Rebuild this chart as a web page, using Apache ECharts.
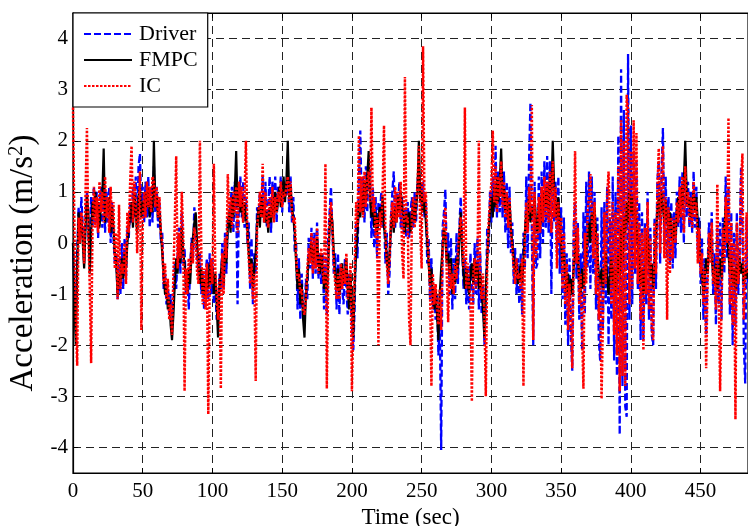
<!DOCTYPE html>
<html>
<head>
<meta charset="utf-8">
<script src="https://cdn.jsdelivr.net/npm/echarts@6/dist/echarts.min.js"></script>
<style>
html,body{margin:0;padding:0;background:#fff;}
#chart{width:748px;height:526px;}
</style>
</head>
<body>
<div id="chart"></div>
<script>
// sampling period of the recorded signals (seconds)
const timeStep = 1;
const xTickLabels = [0, 50, 100, 150, 200, 250, 300, 350, 400, 450];
const yTickLabels = [-4, -3, -2, -1, 0, 1, 2, 3, 4];
const seriesNames = ['Driver', 'FMPC', 'IC'];

const driver = [
0.0,-0.8,-1.6,-0.2,0.7,0.1,0.9,0.3,-0.4,0.5,
1.0,0.2,-0.3,0.9,0.3,1.1,0.4,1.0,0.1,0.8,
1.1,0.3,1.4,0.2,1.0,0.4,1.1,0.0,0.8,0.1,
-0.4,-0.2,-1.1,-0.3,-1.0,0.0,-0.9,0.1,-0.7,0.3,
0.1,0.8,0.4,1.1,0.5,1.3,0.3,1.5,1.75,0.6,
1.1,0.4,1.2,0.5,1.3,0.3,1.1,0.4,1.5,0.6,
1.1,0.3,0.8,0.0,0.2,-0.9,-0.6,-1.2,-0.8,-1.4,
-1.0,-1.6,-1.2,-0.4,-0.9,-0.2,0.3,-0.6,0.6,-0.4,
-0.1,-1.0,-0.6,-1.3,-0.5,0.1,-0.3,0.7,0.3,-0.3,
-0.6,-0.2,-1.0,-0.6,-1.3,-0.7,-0.3,-1.1,-0.2,-1.0,
-0.3,-1.2,-0.8,-1.5,-1.4,-0.6,-0.9,0.0,-0.9,0.2,
-0.6,0.5,0.3,0.8,1.1,0.2,1.2,0.8,-1.2,0.9,
1.3,0.5,1.2,0.3,0.9,0.0,0.4,-0.9,0.1,-1.2,
-0.2,-0.6,0.7,0.4,1.0,0.6,1.3,0.4,1.2,0.3,
0.7,1.3,0.2,1.2,0.6,1.3,0.4,1.1,0.8,1.3,
0.6,1.2,1.1,0.9,1.5,0.6,1.3,0.4,0.9,-0.2,
0.0,-1.3,-0.3,-1.5,-0.6,-1.3,-1.5,-0.7,-1.1,0.1,
-0.5,0.3,-0.7,0.2,-0.6,0.4,-0.7,-0.2,-0.8,-0.2,
-1.3,-0.3,-1.4,0.1,0.6,1.1,0.2,-0.6,-0.2,-1.3,
-0.2,-1.4,-0.4,-0.9,-1.2,-0.3,-0.9,-1.4,-0.6,-1.0,
-1.6,-2.1,-1.2,0.4,-0.3,1.2,2.2,0.7,1.3,0.4,
1.5,0.6,1.6,1.2,0.1,1.1,-0.1,0.9,-0.3,0.8,
0.4,1.0,0.3,0.6,-0.4,0.2,-1.0,-0.6,0.5,1.0,
1.4,0.3,1.0,0.6,1.2,0.3,0.9,0.2,0.7,0.1,
0.8,0.1,0.6,0.9,0.3,1.0,0.4,1.2,1.4,1.1,
0.7,1.2,0.5,0.8,-0.4,0.1,-1.1,-0.3,-1.3,-0.9,
-1.5,-1.0,-2.2,-1.5,-4.05,0.3,0.6,1.05,-0.3,0.2,
-1.0,0.1,-1.3,-0.3,-1.1,0.2,-0.8,0.3,0.9,0.1,
-0.9,-0.3,-1.2,-0.5,-1.3,-0.2,-0.8,-1.2,0.0,-1.0,
0.1,-1.3,-0.2,-1.4,-0.8,-2.0,-1.2,0.3,-0.2,1.0,
0.4,1.3,0.6,1.9,0.5,1.4,0.6,1.6,0.5,1.4,
0.2,1.2,-0.1,1.1,-0.2,0.4,-0.8,-0.1,-1.0,-0.3,
-1.2,-0.2,-1.4,0.2,-0.5,1.3,-0.3,1.6,2.75,0.2,
-2.0,1.2,-0.5,-0.4,1.3,-0.3,1.4,0.0,1.6,0.3,
1.7,0.2,1.6,-1.0,1.5,0.4,1.2,-0.2,1.3,-0.6,
0.7,-1.1,0.5,-1.6,-0.2,-2.0,-0.3,-1.8,-2.5,0.3,
0.8,-0.7,0.4,-1.5,-0.2,-2.1,0.6,-1.4,1.2,-0.5,
1.4,-0.9,1.3,-0.6,1.0,-1.3,0.5,-1.9,-2.3,0.7,
-1.7,0.8,-1.2,1.1,-2.0,0.5,-1.5,1.3,-2.3,1.0,
-2.6,2.1,-3.75,3.4,-2.8,2.6,-3.2,-3.4,3.7,-1.5,
2.3,-1.2,1.8,-0.6,1.6,-0.9,0.8,-1.9,0.6,-1.9,
0.4,-1.2,1.0,-1.5,0.3,-1.8,-2.0,0.5,-0.9,1.2,
1.6,-0.4,1.4,2.25,0.0,1.3,-0.3,0.9,-0.4,0.8,
-0.5,0.6,-0.3,1.0,0.3,1.3,0.2,1.4,0.0,1.6,
0.5,1.2,0.3,1.0,0.2,1.4,0.3,1.1,-0.2,0.5,
-0.8,0.1,-1.5,-0.3,-1.8,-0.5,0.4,-0.2,0.6,-1.0,
-0.2,-1.6,0.3,-1.2,0.4,-1.5,0.5,-0.6,1.3,-0.3,
1.1,-1.4,0.6,-2.0,0.2,-1.6,0.6,-1.0,-0.2,1.5,
0.3,-2.0,-2.75,0.5,-0.8
];

const fmpc = [
0.0,-1.2,-2.0,-0.5,0.6,0.2,0.5,0.0,-0.5,0.3,
0.9,0.6,-0.6,0.2,0.8,0.5,1.0,0.6,0.8,0.3,
0.7,0.9,1.85,0.4,0.8,0.6,0.9,0.2,0.7,0.3,
-0.2,-0.4,-1.0,-0.6,-0.8,-0.3,-0.7,-0.2,-0.5,0.0,
0.3,0.5,0.8,0.3,1.0,0.6,0.2,0.9,1.1,0.5,
0.8,0.6,1.0,0.7,1.1,0.5,0.9,0.6,2.0,0.8,
0.9,0.5,0.6,0.2,-0.2,-0.6,-1.0,-0.8,-1.3,-1.1,
-1.6,-1.9,-1.4,-0.8,-0.3,-0.6,0.0,-0.4,0.3,-0.2,
-0.4,-0.8,-1.0,-0.5,-0.8,-0.2,0.1,0.4,0.6,0.0,
-0.4,-0.8,-0.5,-1.0,-0.7,-1.1,-0.6,-0.9,-0.4,-0.8,
-0.5,-1.0,-0.6,-1.2,-1.85,-0.9,-0.6,-0.3,-0.8,-0.1,
-0.4,0.3,0.6,0.2,0.9,0.5,1.0,1.8,0.7,1.0,
0.6,0.9,0.4,0.8,0.5,0.3,-0.2,-0.6,-0.3,-0.9,
-0.5,-0.2,0.4,0.7,0.3,0.9,0.5,0.8,0.4,0.6,
0.2,0.7,0.4,0.9,0.5,1.0,0.6,0.8,1.1,0.7,
0.9,1.3,0.8,1.2,2.0,0.9,1.1,0.7,0.5,0.2,
-0.4,-0.9,-0.5,-1.2,-0.8,-1.5,-1.85,-1.0,-0.7,-0.3,
-0.2,0.0,-0.4,-0.1,-0.3,0.1,-0.4,-0.6,-0.2,-0.5,
-0.9,-0.6,-1.0,-0.4,0.3,0.6,0.4,-0.2,-0.6,-0.9,
-0.5,-1.0,-0.7,-0.4,-0.8,-0.6,-0.3,-0.9,-1.3,-0.6,
-1.2,-1.85,-0.8,-0.2,0.2,0.8,0.5,1.0,0.6,1.2,
0.8,1.3,1.8,0.9,0.5,0.8,0.3,0.6,0.2,0.5,
0.7,0.4,0.9,0.3,0.1,-0.3,-0.6,-0.2,0.3,0.6,
0.2,0.7,0.4,0.9,0.6,1.0,0.7,0.5,0.2,0.6,
0.3,0.6,0.2,0.5,0.8,0.4,0.7,1.0,2.0,0.8,
1.0,0.6,0.9,0.4,0.0,-0.4,-0.8,-0.5,-1.0,-1.3,
-0.9,-1.4,-1.9,-1.0,-0.5,-0.1,0.3,0.1,-0.4,-0.2,
-0.6,-0.3,-1.0,-0.6,-0.8,-0.3,-0.5,0.1,0.6,-0.2,
-0.6,-0.9,-0.5,-0.8,-1.0,-0.6,-0.4,-0.8,-0.3,-0.7,
-0.4,-0.9,-0.6,-1.0,-1.3,-1.85,-0.9,-0.3,0.2,0.6,
0.9,0.5,1.1,0.7,1.3,0.8,1.2,1.85,0.9,1.1,
0.6,0.9,0.4,0.8,0.3,0.0,-0.3,-0.6,-0.4,-0.8,
-0.7,-0.4,-0.8,-0.3,0.2,0.6,0.3,0.9,0.4,0.7,
0.5,0.9,0.4,0.2,0.7,0.3,0.9,0.6,1.0,0.7,
1.1,0.6,1.3,1.0,2.0,1.1,0.8,0.5,0.9,0.3,
0.0,-0.4,-0.2,-0.6,-1.0,-0.6,-1.1,-0.7,-1.0,-0.5,
-0.2,0.2,-0.3,-0.7,-1.0,-0.5,-0.9,-0.6,-0.2,0.1,
0.4,0.0,0.6,0.3,0.7,0.2,-0.2,-0.6,-0.8,-0.5,
-0.9,-0.6,-0.2,-0.7,-1.0,-0.6,-0.3,-0.8,-0.5,-1.0,
-0.6,-0.2,-0.7,0.3,-0.4,0.5,0.2,0.8,0.4,1.0,
0.6,0.9,0.5,0.7,0.3,0.0,-0.4,-0.8,-0.5,-1.0,
-0.6,-0.2,0.2,-0.3,-0.7,-0.4,-0.9,-0.5,0.2,0.6,
0.9,0.5,1.0,0.7,0.4,0.8,0.5,0.2,0.6,0.3,
0.0,0.4,0.1,0.6,0.9,0.5,1.1,0.7,1.2,2.0,
1.0,0.7,0.9,0.5,0.8,1.0,0.6,0.9,0.4,0.0,
-0.3,-0.6,-1.0,-0.7,-0.3,-0.6,-0.1,0.2,-0.3,-0.6,
-0.8,-0.4,-0.9,-0.6,-0.3,-0.7,-0.2,0.3,0.7,0.2,
-0.2,-0.6,-0.3,-0.8,-0.5,-0.9,-0.4,-0.7,-0.3,-0.6,
-0.4,-0.8,-0.5,-0.7,-0.5
];

const ic = [
2.65,0.3,-1.5,-2.4,0.5,0.0,0.6,0.2,-0.4,1.0,
2.25,0.1,-0.8,-2.35,0.4,1.1,0.3,0.9,0.2,1.2,
0.6,1.0,0.4,1.3,0.5,0.9,0.2,1.1,0.3,0.8,
-0.5,0.2,-1.1,0.75,-0.9,-0.4,-0.6,0.0,-0.8,0.6,
0.2,1.2,1.9,0.4,1.2,0.8,-0.2,0.6,1.4,-1.7,
0.4,1.0,0.5,1.2,0.7,1.1,0.6,1.3,1.2,0.7,
1.1,0.5,0.9,0.2,0.0,-0.8,-0.4,-1.1,-0.7,-1.5,
-1.2,-1.8,-0.6,0.4,1.7,-0.5,0.2,-0.3,1.0,0.2,
-2.9,-0.5,-1.0,-0.3,-0.6,0.0,-0.4,0.3,0.1,-0.6,
-0.8,2.0,-0.2,-1.2,-0.5,-1.3,-0.4,-3.35,-0.9,-0.3,
-0.8,1.55,-0.5,-1.0,-1.5,-0.7,-2.85,-0.2,-1.0,0.1,
-0.3,1.35,0.4,0.9,0.3,1.0,0.6,1.1,0.2,1.2,
0.7,1.1,0.4,0.9,2.0,0.2,-0.3,-0.8,-0.4,-1.1,
-0.6,-2.7,0.3,0.6,1.0,0.5,1.55,0.4,1.0,0.5,
0.3,0.9,0.5,1.1,0.4,0.9,0.6,1.0,0.8,1.2,
0.7,1.0,0.9,1.1,1.3,0.8,1.2,0.6,0.4,0.5,
-0.3,-0.7,-0.6,-1.0,-0.9,-1.3,-1.4,-1.1,-0.5,-0.1,
-0.4,0.2,-0.6,0.1,-0.5,0.3,-0.6,-0.4,-0.1,-0.6,
-0.8,1.55,-2.85,-0.6,0.5,0.8,0.3,-0.4,-0.8,-1.1,
-0.6,-1.1,-0.4,-0.9,-0.5,-0.8,-0.2,-1.1,-0.8,-0.4,
-2.9,-1.5,-0.5,0.8,0.3,2.1,0.6,1.3,0.5,1.4,
0.7,1.2,1.4,0.8,2.65,0.6,0.9,0.1,0.5,-2.0,
0.6,0.3,1.0,2.3,0.2,-0.4,-0.8,-0.3,0.5,0.8,
0.3,1.1,0.4,1.0,0.5,1.2,-0.2,-0.7,3.25,0.4,
0.5,-1.5,-2.0,0.6,0.9,0.3,0.8,1.1,1.9,0.2,
-0.5,3.85,0.8,1.0,0.2,-0.3,-0.9,-2.8,-0.6,-1.2,
-0.8,-1.2,-1.6,-0.9,-1.7,-0.2,0.4,0.7,-0.6,-1.55,
-0.4,-0.9,-0.6,-1.0,-0.4,-0.7,-0.2,0.2,0.5,0.1,
-0.5,2.65,-0.9,-0.4,-0.8,-1.1,-3.1,-0.6,-0.3,-0.9,
-0.5,2.0,-0.8,-1.1,-0.6,-1.4,-3.0,-0.5,0.4,0.8,
1.2,2.2,0.8,1.5,0.6,1.3,0.9,1.6,0.7,1.2,
0.5,1.0,0.3,0.9,0.2,-0.1,-0.5,-0.8,-0.3,-0.7,
-0.6,-0.9,-0.3,-2.8,0.1,0.8,0.2,1.1,0.6,2.7,
-1.9,1.0,-0.3,0.1,0.9,0.2,1.1,0.4,1.3,0.5,
1.2,0.4,1.4,0.2,1.6,0.5,1.1,-0.5,0.8,0.0,
0.5,-0.9,0.2,-1.2,-0.4,-1.7,-0.8,-1.4,-2.45,-0.3,
1.8,-0.4,0.3,-1.2,-0.6,-1.7,-2.85,0.2,-0.8,0.6,
0.9,1.35,0.5,-0.3,0.8,-1.0,0.2,-1.5,-0.7,-3.05,
-1.4,0.6,-0.8,0.9,1.4,0.3,-1.2,0.8,-1.8,0.6,
-2.2,1.5,-2.9,2.4,-2.6,2.0,-2.8,2.9,2.6,-1.2,
1.8,-0.9,2.4,-0.5,2.15,-0.8,0.4,-1.5,0.2,-2.1,
0.3,-1.0,0.8,-1.3,0.1,-1.7,-1.9,0.4,-0.6,1.0,
1.85,-0.2,1.2,1.9,-0.3,0.9,-1.5,0.7,-0.6,0.5,
-0.3,0.5,0.0,0.8,0.4,1.1,0.5,1.3,0.2,1.5,
0.7,1.0,0.4,0.9,0.3,1.2,0.5,0.8,-0.4,0.3,
-0.6,-0.2,-1.2,-0.5,-2.45,-0.8,0.2,-0.4,0.4,-0.8,
-0.5,-1.3,1.15,-1.0,-2.9,-1.2,0.3,-0.4,0.9,0.0,
2.45,-1.2,0.4,-1.6,0.0,-3.45,0.4,-0.8,-0.4,1.2,
1.75,-1.5,-0.7,0.6,-0.6
];

function toPairs(values) {
  return values.map((v, i) => [i * timeStep, v]);
}

const font = 'Liberation Serif, Times New Roman, serif';
const chart = echarts.init(document.getElementById('chart'), null, {renderer: 'canvas'});
const lastTime = (driver.length - 1) * timeStep;
const gridLine = {show: true, lineStyle: {color: '#222', width: 1, type: [8, 5]}};

chart.setOption({
  animation: false,
  backgroundColor: '#ffffff',
  textStyle: {fontFamily: font},
  grid: {
    left: 73, top: 13, right: 0, bottom: 53,
    outerBoundsMode: 'none',
    containLabel: false,
    show: true, borderColor: '#000', borderWidth: 1.2, backgroundColor: 'transparent'
  },
  legend: {
    data: seriesNames,
    orient: 'vertical',
    left: 73, top: 13,
    padding: [10, 10, 10, 10],
    itemGap: 4,
    itemWidth: 48,
    itemHeight: 14,
    backgroundColor: '#ffffff',
    borderColor: '#000',
    borderWidth: 1.2,
    borderRadius: 0,
    itemStyle: {opacity: 0, borderWidth: 0},
    textStyle: {fontFamily: font, fontSize: 22, color: '#000', padding: [0, 0, 0, 2]}
  },
  xAxis: [{
    type: 'value',
    min: 0, max: lastTime, interval: 50,
    name: 'Time (sec)',
    nameLocation: 'middle',
    nameGap: 28,
    nameTextStyle: {fontFamily: font, fontSize: 23, color: '#000'},
    axisLine: {show: true, onZero: false, lineStyle: {color: '#000', width: 1.2}},
    axisTick: {show: true, inside: true, length: 5, lineStyle: {color: '#000'}},
    axisLabel: {
      fontFamily: font, fontSize: 21, color: '#000', margin: 8,
      formatter: v => xTickLabels.includes(v) ? String(v) : ''
    },
    splitLine: gridLine
  }, {
    type: 'value', position: 'top',
    min: 0, max: lastTime, interval: 50,
    axisLine: {show: true, onZero: false, lineStyle: {color: '#000', width: 1.2}},
    axisTick: {show: true, inside: true, length: 5, lineStyle: {color: '#000'}},
    axisLabel: {show: false},
    splitLine: {show: false}
  }],
  yAxis: {
    type: 'value',
    min: -4.5, max: 4.5, splitNumber: 9,
    name: '{a|Acceleration (m/s}{sup|2}{a|)}',
    nameLocation: 'middle',
    nameRotate: 90,
    nameGap: 29,
    nameTextStyle: {
      fontFamily: font, fontSize: 33, color: '#000',
      padding: [0, 40, 0, 0],
      rich: {
        a: {fontFamily: font, fontSize: 33, color: '#000'},
        sup: {fontFamily: font, fontSize: 21, color: '#000', verticalAlign: 'top', padding: [0, 0, 13, 0]}
      }
    },
    axisLine: {show: true, onZero: false, lineStyle: {color: '#000', width: 1.2}},
    axisTick: {show: true, inside: true, length: 5, lineStyle: {color: '#000'}},
    axisLabel: {
      fontFamily: font, fontSize: 21, color: '#000', margin: 5,
      formatter: v => yTickLabels.includes(v) ? String(v) : ''
    },
    splitLine: gridLine
  },
  series: [
    {
      name: seriesNames[0], type: 'line', data: toPairs(driver),
      symbol: 'none', showSymbol: false, z: 2,
      lineStyle: {color: '#0000ff', width: 2.3, type: [7, 3]},
      itemStyle: {color: '#0000ff'}
    },
    {
      name: seriesNames[1], type: 'line', data: toPairs(fmpc),
      symbol: 'none', showSymbol: false, z: 3,
      lineStyle: {color: '#000000', width: 2.2, type: 'solid'},
      itemStyle: {color: '#000000'}
    },
    {
      name: seriesNames[2], type: 'line', data: toPairs(ic),
      symbol: 'none', showSymbol: false, z: 4,
      lineStyle: {color: '#ff0000', width: 2.5, type: [2.5, 1.5]},
      itemStyle: {color: '#ff0000'}
    }
  ]
});
</script>
</body>
</html>
